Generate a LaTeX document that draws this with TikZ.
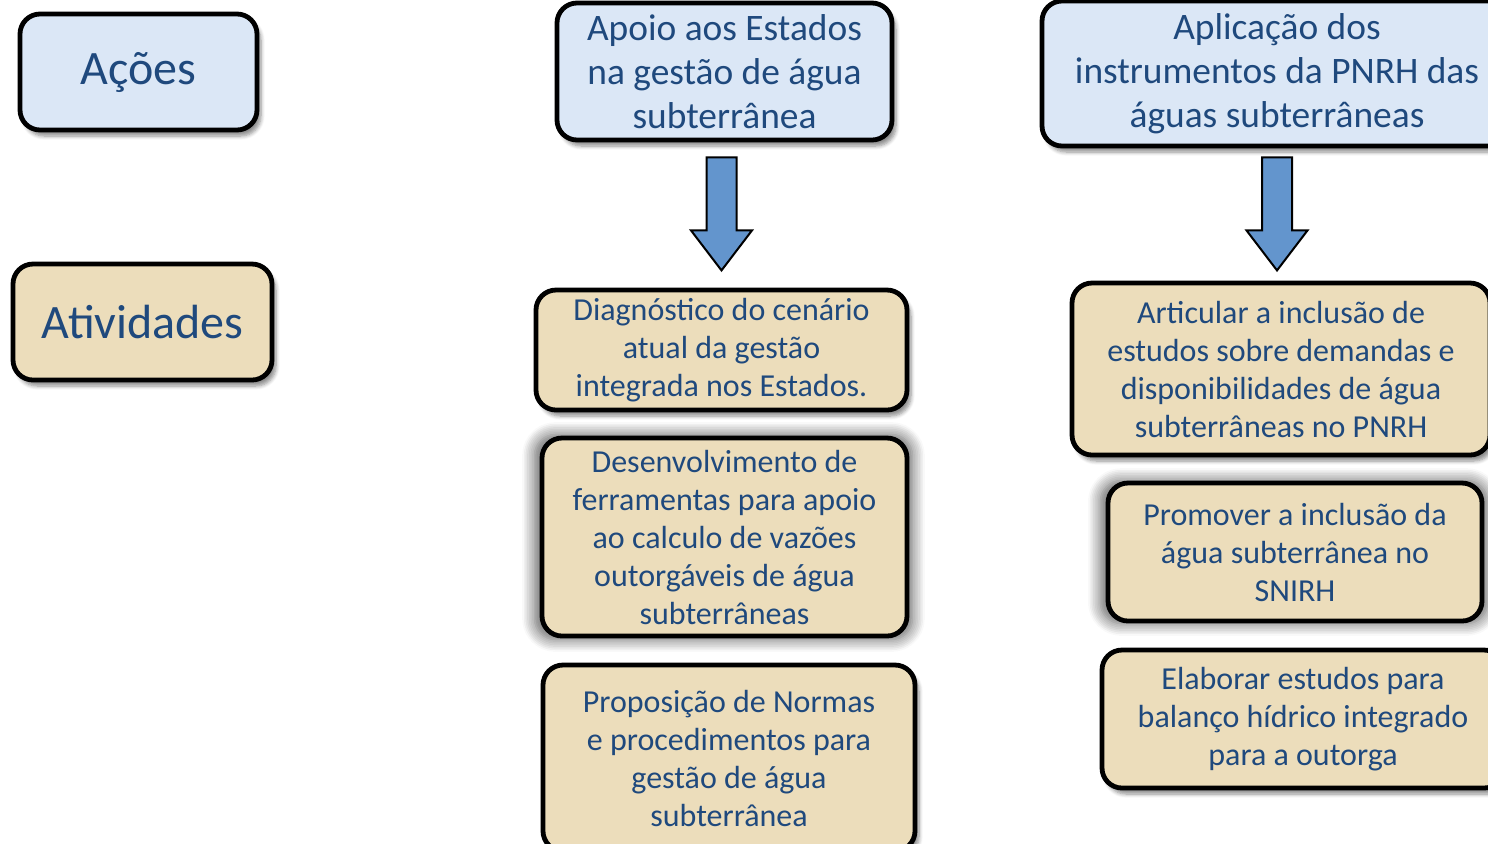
\documentclass[tikz,border=0pt]{standalone}
\usepackage{fontspec}
\setmainfont{Carlito}
\usetikzlibrary{shadows.blur}
\definecolor{textoazul}{RGB}{31,73,125}
\definecolor{fundoazul}{RGB}{219,231,246}
\definecolor{fundobege}{RGB}{236,221,187}
\definecolor{setaazul}{RGB}{99,149,205}
\tikzset{
    caixa/.style={draw=black, line width=2.4pt, rounded corners=10pt, text=textoazul,
      align=center, inner sep=0pt,
      blur shadow={shadow xshift=2pt, shadow yshift=-3pt, shadow opacity=45, shadow blur steps=6}},
    titulo/.style={caixa, fill=fundoazul, font=\fontsize{24}{29}\selectfont},
    acao/.style={caixa, fill=fundoazul, font=\fontsize{18.7}{22}\selectfont},
    atividade/.style={caixa, fill=fundobege, font=\fontsize{16}{19}\selectfont},
    brilho/.style={blur shadow={shadow xshift=-0.5pt, shadow yshift=0pt, shadow scale=1.035,
      shadow opacity=35, shadow blur radius=6pt, shadow blur steps=8}},
    seta/.style={draw=black, line width=1pt, fill=setaazul},
}

\begin{document}
\begin{tikzpicture}[x=0.5pt, y=-0.5pt]
    \useasboundingbox (0,0) rectangle (1488,843);
    \clip (0,0) rectangle (1488,843);
    \node[titulo, minimum width=118.5pt, minimum height=58pt] (acoes) at (138.5,72) {Ações};
    \node[titulo, fill=fundobege, minimum width=129.5pt, minimum height=58pt] (atividades) at (142.5,322) {Atividades};

    \node[acao, minimum width=167.5pt, minimum height=68.5pt] (apoio) at (724.5,71.5)
      {Apoio aos Estados\\na gestão de água\\subterrânea};
    \node[acao, minimum width=235pt, minimum height=72.5pt] (aplicacao) at (1277,73.5)
      {Aplicação dos\\instrumentos da PNRH das\\águas subterrâneas};

    \node[atividade, minimum width=185.5pt, minimum height=60pt] (diagnostico) at (721.5,350)
      {Diagnóstico do cenário\\atual da gestão\\integrada nos Estados.};
    \node[atividade, brilho, minimum width=182.5pt, minimum height=99pt] (ferramentas) at (724.5,537)
      {Desenvolvimento de\\ferramentas para apoio\\ao calculo de vazões\\outorgáveis de água\\subterrâneas};
    \node[atividade, minimum width=186pt, minimum height=93pt] (normas) at (729,758)
      {Proposição de Normas\\e procedimentos para\\gestão de água\\subterrânea};

    \node[atividade, minimum width=209pt, minimum height=86pt] (articular) at (1281,369)
      {Articular a inclusão de\\estudos sobre demandas e\\disponibilidades de água\\subterrâneas no PNRH};
    \node[atividade, brilho, minimum width=187pt, minimum height=69pt] (snirh) at (1295,552)
      {Promover a inclusão da\\água subterrânea no\\SNIRH};
    \node[atividade, minimum width=201pt, minimum height=69pt] (balanco) at (1303,719)
      {Elaborar estudos para\\balanço hídrico integrado\\para a outorga};

    \draw[seta] ([yshift=-7.5pt]apoio.south -| diagnostico.north) ++(-7.5pt,0) -- ++(15pt,0) -- ++(0,-36.5pt)
      -- ++(7.75pt,0) -- ++(-15.25pt,-20pt) -- ++(-15.25pt,20pt) -- ++(7.75pt,0) -- cycle;
    \draw[seta] ([yshift=-4.5pt]aplicacao.south) ++(-7.5pt,0) -- ++(15pt,0) -- ++(0,-36.5pt)
      -- ++(7.75pt,0) -- ++(-15.25pt,-20pt) -- ++(-15.25pt,20pt) -- ++(7.75pt,0) -- cycle;
\end{tikzpicture}
\end{document}
